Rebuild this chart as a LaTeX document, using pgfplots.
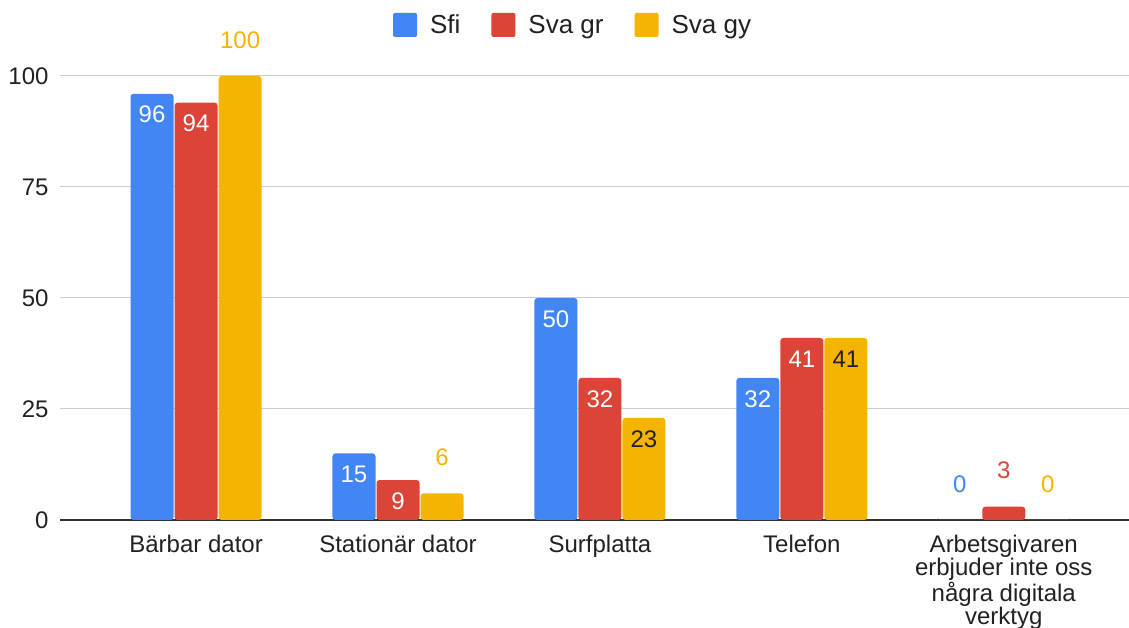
\documentclass[border=0pt]{standalone}
\usepackage{fontspec}
\setmainfont{Liberation Sans}
\usepackage{pgfplots}
\pgfplotsset{compat=1.18}

\definecolor{cblue}{HTML}{4285F4}
\definecolor{cred}{HTML}{DB4437}
\definecolor{cyellow}{HTML}{F4B400}
\definecolor{cdark}{HTML}{212121}

\newcommand\fs{\fontsize{24}{23}\selectfont}

% labels inside the bar top / above the bar
\pgfplotsset{
  inlab/.style={nodes near coords, every node near coord/.append style={text=#1, font=\fs, yshift=-33pt}},
  outlab/.style={nodes near coords, every node near coord/.append style={text=#1, font=\fs, yshift=24pt}},
}

\begin{document}
\begin{tikzpicture}
\begin{axis}[
    scale only axis,
    width=1069pt, height=444pt,
    ybar, bar width=0.213,
    xmin=-0.674, xmax=4.62,
    ymin=0, ymax=100,
    enlargelimits=false,
    clip=false,
    axis x line*=bottom,
    axis y line*=left,
    y axis line style={draw=none},
    x axis line style={-, draw=black!80, line width=1.3pt},
    major tick length=0pt,
    ymajorgrids,
    grid style={draw=black!20, line width=1pt},
    ytick={0,25,50,75,100},
    xtick={0,1,2,3,4},
    xticklabels={Bärbar dator, Stationär dator, Surfplatta, Telefon, {Arbetsgivaren\\erbjuder inte oss\\några digitala\\verktyg}},
    xticklabel style={align=center, font=\fs, text=cdark, yshift=-12pt},
    yticklabel style={font=\fs, text=cdark, xshift=-8pt},
    /pgf/number format/assume math mode=true,
    legend columns=-1,
    legend style={at={(0.48,1.115)}, anchor=center, draw=none,
        font=\fontsize{26}{26}\selectfont, text=cdark,
        /tikz/every odd column/.append style={column sep=11pt},
        /tikz/every even column/.append style={column sep=29pt}},
    legend image code/.code={\fill[#1, rounded corners=2pt] (0pt,-12pt) rectangle (24pt,12pt);},
]
% Sfi
\addplot[fill=cblue, draw=none, bar shift=-0.218, rounded corners=3pt] coordinates {(0,96) (1,15) (2,50) (3,32) (4,0)};
\addlegendentry{Sfi}
\addplot[forget plot, draw=none, fill=none, bar shift=-0.218, inlab=white] coordinates {(0,96) (1,15) (2,50) (3,32)};
\addplot[forget plot, draw=none, fill=none, bar shift=-0.218, outlab=cblue] coordinates {(4,0)};
% Sva gr
\addplot[fill=cred, draw=none, bar shift=0, rounded corners=3pt] coordinates {(0,94) (1,9) (2,32) (3,41) (4,3)};
\addlegendentry{Sva gr}
\addplot[forget plot, draw=none, fill=none, bar shift=0, inlab=white] coordinates {(0,94) (1,9) (2,32) (3,41)};
\addplot[forget plot, draw=none, fill=none, bar shift=0, outlab=cred] coordinates {(4,3)};
% Sva gy
\addplot[fill=cyellow, draw=none, bar shift=0.218, rounded corners=3pt] coordinates {(0,100) (1,6) (2,23) (3,41) (4,0)};
\addlegendentry{Sva gy}
\addplot[forget plot, draw=none, fill=none, bar shift=0.218, inlab=cdark] coordinates {(2,23) (3,41)};
\addplot[forget plot, draw=none, fill=none, bar shift=0.218, outlab=cyellow] coordinates {(0,100) (1,6) (4,0)};
\end{axis}
\pgfresetboundingbox
\path (-60pt,-108pt) rectangle (1069pt,520pt);
\end{tikzpicture}
\end{document}
